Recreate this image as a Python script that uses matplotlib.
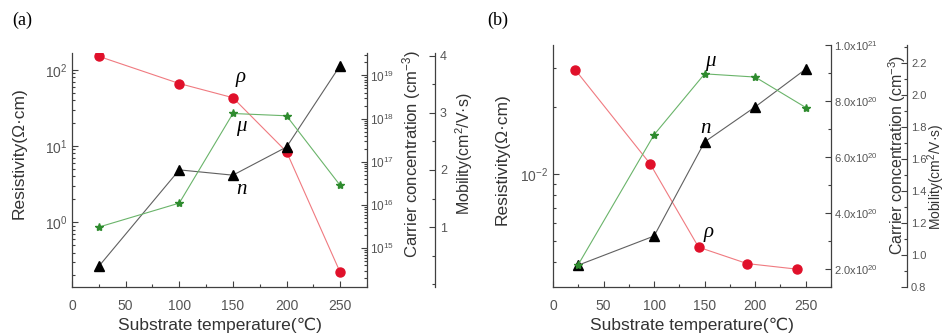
import numpy as np
import matplotlib
matplotlib.use("Agg")
import matplotlib.pyplot as plt
from matplotlib.ticker import FuncFormatter, MultipleLocator, LogLocator, NullFormatter, FixedLocator

plt.rcParams['font.family'] = ['Liberation Sans', 'DejaVu Sans']
plt.rcParams['mathtext.fontset'] = 'custom'
plt.rcParams['mathtext.rm'] = 'Liberation Sans'
plt.rcParams['mathtext.it'] = 'Liberation Sans:italic'

# panel (a) data
temp_a = [25, 100, 150, 200, 250]
rho_a = [150, 66, 43, 8.4, 0.22]
n_a = [3.8e14, 6.5e16, 4.9e16, 2.2e17, 1.7e19]
mu_a = [1.0, 1.42, 2.99, 2.95, 1.73]

# panel (b) data
temp_b_rho = [22, 96, 144, 192, 241]
rho_b = [0.0294, 0.0111, 0.00467, 0.00394, 0.00372]
temp_b = [25, 100, 150, 200, 250]
n_b = [2.14e20, 3.18e20, 6.54e20, 7.79e20, 9.14e20]
mu_b = [0.94, 1.75, 2.13, 2.11, 1.92]

RED = '#e0102a'
RED_LINE = '#f07a80'
GREEN = '#2e8b2e'
GREEN_LINE = '#6ab46a'
BLACK = '#000000'
GRAY_LINE = '#606060'
TICK_C = '#555555'
SPINE_C = '#404040'
LABEL_C = '#333333'
SERIF = ['Liberation Serif', 'DejaVu Serif']

fig = plt.figure(figsize=(9.46, 3.36), dpi=100)


def style_axis(ax, size=10):
    for s in ax.spines.values():
        s.set_visible(False)
        s.set_color(SPINE_C)
        s.set_linewidth(0.9)
    ax.tick_params(axis='both', which='both', direction='in', colors=SPINE_C,
                   labelcolor=TICK_C, labelsize=size, width=0.8)
    ax.tick_params(which='major', length=4)
    ax.tick_params(which='minor', length=2)


def make_panel(rect, mob_pos):
    ax = fig.add_axes(rect)
    style_axis(ax)
    ax.spines['left'].set_visible(True)
    ax.spines['bottom'].set_visible(True)
    ax.set_xlim(0, 275)
    ax.xaxis.set_major_locator(MultipleLocator(50))
    ax.xaxis.set_minor_locator(MultipleLocator(25))
    ax.tick_params(axis='x', pad=9)
    ax.set_xlabel('Substrate temperature(℃)', fontsize=12.5, color=LABEL_C, labelpad=3)
    ax.patch.set_alpha(0)

    ax2 = ax.twinx()
    style_axis(ax2, 9)
    ax2.spines['right'].set_visible(True)

    ax3 = ax.twinx()
    style_axis(ax3, 9)
    ax3.spines['right'].set_visible(True)
    ax3.spines['right'].set_position(('axes', mob_pos))
    return ax, ax2, ax3


# ---------------- panel (a) ----------------
axa, axa2, axa3 = make_panel([72 / 946, 1 - 287 / 336, 295 / 946, 234 / 336], 1.2305)

axa.plot(temp_a, rho_a, '-', color=RED_LINE, lw=0.8, zorder=3)
axa.plot(temp_a, rho_a, 'o', color=RED, ms=6.5, zorder=4)
axa.set_yscale('log')
axa.set_ylim(10 ** -0.85, 10 ** 2.22)
axa.yaxis.set_major_locator(LogLocator(base=10, numticks=10))
axa.yaxis.set_minor_locator(LogLocator(base=10, subs=np.arange(2, 10), numticks=10))
axa.yaxis.set_minor_formatter(NullFormatter())
axa.set_ylabel('Resistivity(Ω·cm)', fontsize=12.5, color=LABEL_C)
axa.yaxis.set_label_coords(-0.153, 0.57)

axa2.plot(temp_a, n_a, '-', color=GRAY_LINE, lw=0.8)
axa2.plot(temp_a, n_a, '^', color=BLACK, ms=6.5)
axa2.set_yscale('log')
axa2.set_ylim(10 ** 14.1, 10 ** 19.52)
axa2.yaxis.set_major_locator(LogLocator(base=10, numticks=10))
axa2.yaxis.set_minor_locator(LogLocator(base=10, subs=np.arange(2, 10), numticks=10))
axa2.yaxis.set_minor_formatter(NullFormatter())
axa2.tick_params(axis='y', labelsize=8.5, pad=2)
axa2.set_ylabel('Carrier concentration (cm$^{-3}$)', fontsize=12, color=LABEL_C)
axa2.yaxis.set_label_coords(1.112, 0.57)

axa3.plot(temp_a, mu_a, '-', color=GREEN_LINE, lw=0.8)
axa3.plot(temp_a, mu_a, '*', color=GREEN, ms=6)
axa3.set_ylim(-0.05, 4.05)
axa3.yaxis.set_major_locator(FixedLocator([1, 2, 3, 4]))
axa3.yaxis.set_minor_locator(MultipleLocator(0.5))
axa3.set_ylabel('Mobility(cm$^2$/V·s)', fontsize=11.5, color=LABEL_C)
axa3.yaxis.set_label_coords(1.292, 0.57)

axa.text(0.556, 0.897, 'ρ', transform=axa.transAxes, fontsize=15, style='italic',
         family=SERIF, ha='left', va='center')
axa.text(0.556, 0.684, 'μ', transform=axa.transAxes, fontsize=15, style='italic',
         family=SERIF, ha='left', va='center')
axa.text(0.556, 0.415, 'n', transform=axa.transAxes, fontsize=15, style='italic',
         family=SERIF, ha='left', va='center')

# ---------------- panel (b) ----------------
axb, axb2, axb3 = make_panel([553 / 946, 1 - 287 / 336, 278 / 946, 242 / 336], 1.273)

axb.plot(temp_b_rho, rho_b, '-', color=RED_LINE, lw=0.8, zorder=3)
axb.plot(temp_b_rho, rho_b, 'o', color=RED, ms=6.5, zorder=4)
axb.set_yscale('log')
axb.set_ylim(10 ** -2.51, 10 ** -1.42)
axb.yaxis.set_major_locator(FixedLocator([1e-2]))
axb.yaxis.set_minor_locator(LogLocator(base=10, subs=np.arange(2, 10), numticks=10))
axb.yaxis.set_minor_formatter(NullFormatter())
axb.set_ylabel('Resistivity(Ω·cm)', fontsize=12.5, color=LABEL_C)
axb.yaxis.set_label_coords(-0.155, 0.53)


def conc_fmt(v, pos):
    exp = int(np.floor(np.log10(v)))
    return r'$\mathdefault{%.1fx10^{%d}}$' % (v / 10 ** exp, exp)


axb2.plot(temp_b, n_b, '-', color=GRAY_LINE, lw=0.8)
axb2.plot(temp_b, n_b, '^', color=BLACK, ms=6.5)
axb2.set_ylim(1.36e20, 1.0e21)
axb2.yaxis.set_major_locator(FixedLocator([2e20, 4e20, 6e20, 8e20, 1e21]))
axb2.yaxis.set_minor_locator(MultipleLocator(1e20))
axb2.yaxis.set_major_formatter(FuncFormatter(conc_fmt))
axb2.tick_params(axis='y', labelsize=8, pad=2)
axb2.set_ylabel('Carrier concentration (cm$^{-3}$)', fontsize=11.5, color=LABEL_C)
axb2.yaxis.set_label_coords(1.20, 0.545)

axb3.plot(temp_b, mu_b, '-', color=GREEN_LINE, lw=0.8)
axb3.plot(temp_b, mu_b, '*', color=GREEN, ms=6)
axb3.set_ylim(0.8, 2.31)
axb3.yaxis.set_major_locator(MultipleLocator(0.2))
axb3.yaxis.set_minor_locator(MultipleLocator(0.1))
axb3.yaxis.set_major_formatter(FuncFormatter(lambda v, p: '%.1f' % v))
axb3.tick_params(axis='y', labelsize=8, pad=3)
axb3.set_ylabel('Mobility(cm$^2$/V·s)', fontsize=10, color=LABEL_C)
axb3.yaxis.set_label_coords(1.338, 0.455)

axb.text(0.547, 0.93, 'μ', transform=axb.transAxes, fontsize=15, style='italic',
         family=SERIF, ha='left', va='center')
axb.text(0.529, 0.657, 'n', transform=axb.transAxes, fontsize=15, style='italic',
         family=SERIF, ha='left', va='center')
axb.text(0.54, 0.227, 'ρ', transform=axb.transAxes, fontsize=15, style='italic',
         family=SERIF, ha='left', va='center')

fig.text(12 / 946, 1 - 20 / 336, '(a)', fontsize=13, family=SERIF, va='center')
fig.text(487 / 946, 1 - 20 / 336, '(b)', fontsize=13, family=SERIF, va='center')

fig.savefig('out.png', dpi=100)
